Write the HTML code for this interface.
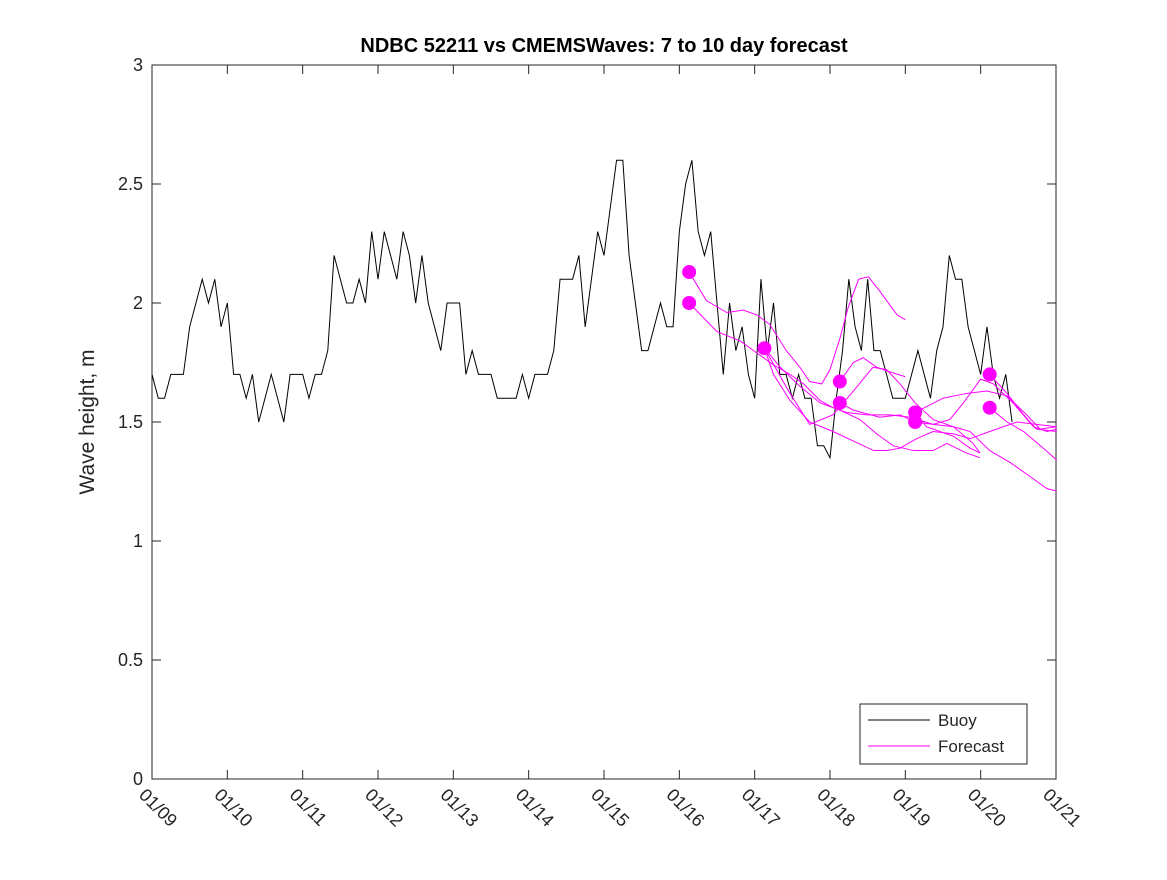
<!DOCTYPE html>
<html><head><meta charset="utf-8"><style>
body{margin:0;background:#fff;}
svg text{font-family:"Liberation Sans","DejaVu Sans",sans-serif;fill:#262626;}
</style></head><body>
<svg id="chart" width="1167" height="875" xmlns="http://www.w3.org/2000/svg">
<rect width="1167" height="875" fill="#fff"/>
<text x="604" y="52" text-anchor="middle" font-size="20" font-weight="bold" style="fill:#000">NDBC 52211 vs CMEMSWaves: 7 to 10 day forecast</text>
<text transform="translate(94,422) rotate(-90)" text-anchor="middle" font-size="21">Wave height, m</text>
<g id="axes"></g>
<g id="marks"></g>
<g>
<rect x="860" y="704" width="167" height="60" fill="#fff" stroke="#262626" stroke-width="1"/>
<line x1="868" y1="720" x2="930" y2="720" stroke="#000" stroke-width="1"/>
<text x="938" y="726" font-size="17">Buoy</text>
<line x1="868" y1="746" x2="930" y2="746" stroke="#ff00ff" stroke-width="1"/>
<text x="938" y="752" font-size="17">Forecast</text>
</g>
</svg>
<script>
const xTickLabels=["01/09","01/10","01/11","01/12","01/13","01/14","01/15","01/16","01/17","01/18","01/19","01/20","01/21"];
const yTicks=[0,0.5,1,1.5,2,2.5,3];
const yTickLabels=["0","0.5","1","1.5","2","2.5","3"];
const buoyA=[1.7,1.6,1.6,1.7,1.7,1.7,1.9,2.0,2.1,2.0,2.1,1.9,2.0,1.7,1.7,1.6,1.7,1.5,1.6,1.7,1.6,1.5,1.7,1.7,1.7,1.6,1.7,1.7,1.8,2.2,2.1,2.0,2.0,2.1,2.0,2.3,2.1,2.3,2.2,2.1,2.3,2.2,2.0,2.2,2.0,1.9,1.8,2.0,2.0,2.0,1.7,1.8,1.7,1.7,1.7,1.6,1.6,1.6,1.6,1.7,1.6,1.7,1.7,1.7,1.8,2.1,2.1,2.1,2.2,1.9,2.1,2.3];
const buoyB=[2.2,2.4,2.6,2.6,2.2,2.0,1.8,1.8,1.9,2.0,1.9,1.9,2.3,2.5,2.6,2.3,2.2,2.3,2.0,1.7,2.0,1.8,1.9,1.7,1.6,2.1,1.8,2.0,1.7,1.7,1.6,1.7,1.6,1.6,1.4,1.4,1.35,1.6,1.8,2.1,1.9,1.8,2.1,1.8,1.8,1.7,1.6,1.6,1.6,1.7,1.8,1.7,1.6,1.8,1.9,2.2,2.1,2.1,1.9,1.8,1.7,1.9,1.7,1.6,1.7,1.5];
const fcDays=[
[7.13,7.36,7.63,7.85,8.03,8.20,8.42,8.60,8.73,8.89,9.00,9.13,9.24,9.38,9.51,9.66,9.89,10.0],
[7.13,7.50,7.81,8.03,8.25,8.47,8.65,8.87,9.04,9.22,9.49,9.80,10.06,10.37,10.64,10.86,11.12,11.39,11.66,11.88,12.01],
[8.13,8.34,8.60,8.87,9.13,9.40,9.62,9.84,10.11,10.37,10.55,10.81,10.99],
[8.13,8.25,8.47,8.73,9.04,9.31,9.58,9.75,9.93,10.15,10.37,10.64,10.86,11.12,11.48,11.74,12.01],
[9.13,9.31,9.44,9.62,9.80,10.0],
[9.13,9.31,9.66,9.93,10.13],
[8.13,8.45,8.73,9.04,9.31,9.57,9.75,9.93,10.13,10.37,10.64,10.90,10.99],
[10.13,10.5,10.81,11.08,11.35,11.61,11.79,12.01],
[10.13,10.37,10.59,10.77,11.0,11.17,11.43,11.70,11.88,12.01],
[10.13,10.28,10.64,10.86,10.99],
[11.12,11.35,11.57,11.74,12.01],
[11.12,11.35,11.57,11.83,12.01]];
const fcHs=[
[2.13,2.01,1.96,1.97,1.95,1.91,1.80,1.73,1.67,1.66,1.72,1.85,1.98,2.10,2.11,2.05,1.95,1.93],
[2.00,1.88,1.84,1.79,1.74,1.70,1.66,1.59,1.56,1.54,1.53,1.53,1.52,1.49,1.48,1.46,1.38,1.33,1.27,1.22,1.21],
[1.81,1.73,1.65,1.58,1.55,1.51,1.45,1.40,1.38,1.38,1.41,1.37,1.35],
[1.81,1.70,1.59,1.50,1.46,1.42,1.38,1.38,1.39,1.43,1.46,1.45,1.43,1.46,1.50,1.49,1.48],
[1.67,1.75,1.77,1.73,1.71,1.69],
[1.58,1.55,1.52,1.53,1.50],
[1.81,1.63,1.49,1.53,1.63,1.73,1.72,1.66,1.58,1.51,1.48,1.41,1.37],
[1.54,1.60,1.62,1.63,1.61,1.53,1.47,1.48],
[1.50,1.49,1.51,1.58,1.68,1.66,1.58,1.48,1.46,1.47],
[1.54,1.48,1.44,1.39,1.37],
[1.70,1.62,1.53,1.47,1.46],
[1.56,1.50,1.46,1.39,1.34]];
const dotDays=[7.13,7.13,8.13,9.13,9.13,10.13,10.13,11.12,11.12];
const dotHs=[2.13,2.00,1.81,1.67,1.58,1.54,1.50,1.70,1.56];

const X0=152,X1=1056,Y0=779,Y1=65;
const xs=d=>X0+(X1-X0)*d/12;
const ys=v=>Y0-(Y0-Y1)*v/3;
const NS="http://www.w3.org/2000/svg";
const axes=document.getElementById('axes'),marks=document.getElementById('marks');
function mk(tag,attrs,parent){const e=document.createElementNS(NS,tag);for(const k in attrs)e.setAttribute(k,attrs[k]);parent.appendChild(e);return e;}
let box=mk('rect',{x:X0,y:Y1,width:X1-X0,height:Y0-Y1,fill:'none',stroke:'#262626','stroke-width':1},axes);


xTickLabels.forEach((lab,i)=>{const x=xs(i);
 let t1=mk('line',{x1:x,y1:Y0,x2:x,y2:Y0-9,stroke:'#262626'},axes);
 
 
 let t2=mk('line',{x1:x,y1:Y1,x2:x,y2:Y1+9,stroke:'#262626'},axes);
 
 
 let tx=mk('text',{transform:`translate(${x-14},${Y0+17}) rotate(45)`,'font-size':18},axes);tx.textContent=lab;
 
 
});
yTicks.forEach((v,i)=>{const y=ys(v);
 let t1=mk('line',{x1:X0,y1:y,x2:X0+9,y2:y,stroke:'#262626'},axes);
 
 
 let t2=mk('line',{x1:X1,y1:y,x2:X1-9,y2:y,stroke:'#262626'},axes);
 
 
 let tx=mk('text',{x:X0-9,y:y+6,'text-anchor':'end','font-size':18},axes);tx.textContent=yTickLabels[i];
 
 
});
const bpts=[];buoyA.forEach((v,k)=>bpts.push([k/12,v]));buoyB.forEach((v,k)=>bpts.push([6+k/12,v]));
let bl=mk('polyline',{points:bpts.map(p=>xs(p[0])+','+ys(p[1])).join(' '),fill:'none',stroke:'#000','stroke-width':1},marks);


fcDays.forEach((ds,i)=>{
 let pl=mk('polyline',{points:ds.map((d,j)=>xs(d)+','+ys(fcHs[i][j])).join(' '),fill:'none',stroke:'#ff00ff','stroke-width':1},marks);
 
 
});
dotDays.forEach((d,i)=>{
 let c=mk('circle',{cx:xs(d),cy:ys(dotHs[i]),r:7,fill:'#ff00ff'},marks);
 
 
});
</script>
</body></html>
